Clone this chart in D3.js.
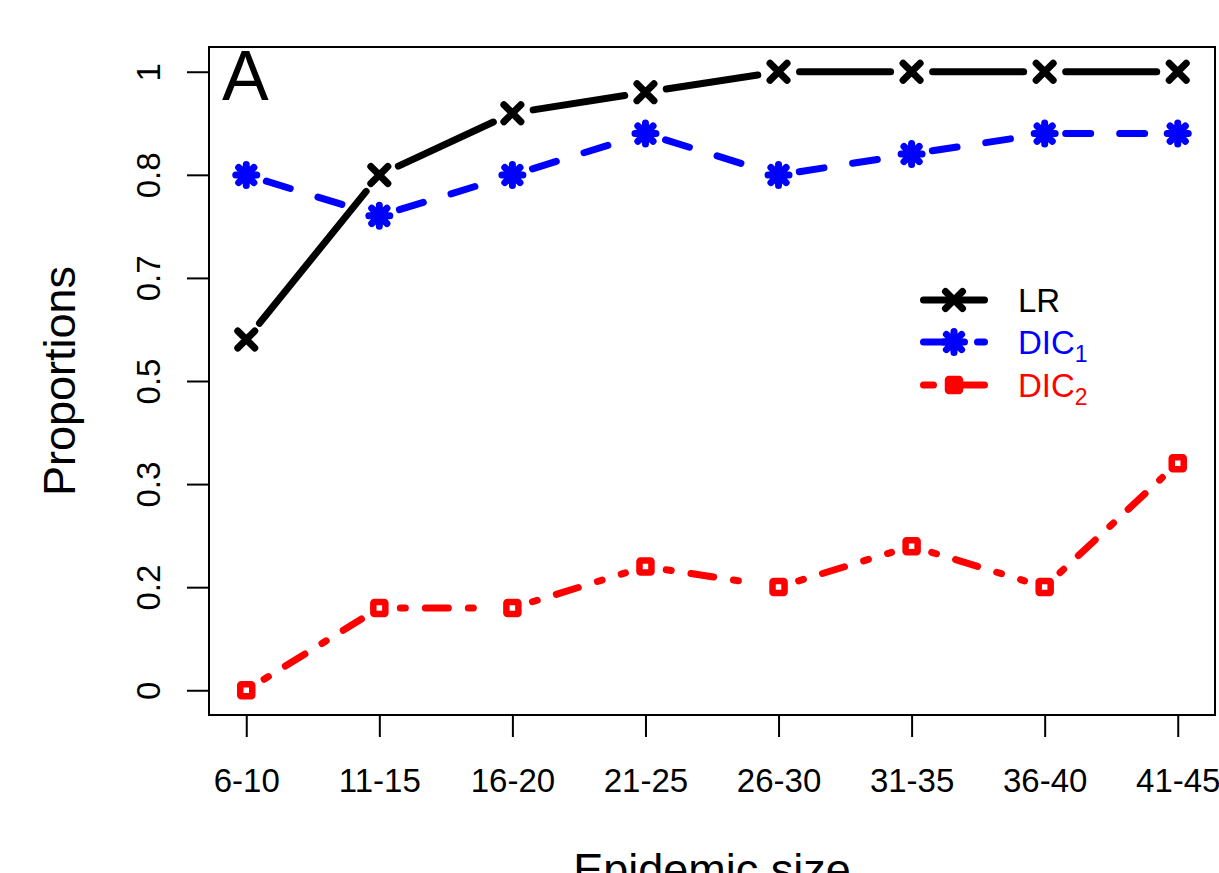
<!DOCTYPE html>
<html>
<head>
<meta charset="utf-8">
<script src="https://cdn.jsdelivr.net/npm/d3@7"></script>
<style>
  html, body { margin: 0; padding: 0; background: #fff; }
  svg { display: block; font-family: "Liberation Sans", Arial, Helvetica, sans-serif; }
</style>
</head>
<body>
<svg id="chart" width="1219" height="873"></svg>
<script>
// ---------- data ----------
const categories = ["6-10", "11-15", "16-20", "21-25", "26-30", "31-35", "36-40", "41-45"];
const lrValues   = [0.567, 0.833, 0.933, 0.967, 1.0, 1.0, 1.0, 1.0];
const dic1Values = [0.833, 0.767, 0.833, 0.9, 0.833, 0.867, 0.9, 0.9];
const dic2Values = [0.0, 0.133, 0.133, 0.2, 0.167, 0.233, 0.167, 0.367];
const yTickValues = [0, 1/6, 2/6, 3/6, 4/6, 5/6, 1];
const yTickLabels = ["0", "0.2", "0.3", "0.5", "0.7", "0.8", "1"];
const seriesNames = ["LR", "DIC", "DIC"];
const seriesSubs  = ["", "1", "2"];

// ---------- layout ----------
const svg = d3.select("#chart");
const box = { left: 209, right: 1215, top: 47, bottom: 715 };

const x = d3.scaleLinear()
  .domain([-0.28, categories.length - 1 + 0.28])
  .range([box.left, box.right]);
const y = d3.scaleLinear()
  .domain([-0.04, 1.04])
  .range([box.bottom, box.top]);

const LW = 7;
const series = [
  { values: lrValues,   color: "#000000", dash: null,         legDash: null,      marker: "x" },
  { values: dic1Values, color: "#0000ff", dash: "25,29",      legDash: "25,29",   marker: "ast" },
  { values: dic2Values, color: "#ff0000", dash: "5,20,23,20", legDash: "10,20,40", marker: "sq" }
];

// ---------- frame ----------
svg.append("rect")
  .attr("x", box.left).attr("y", box.top)
  .attr("width", box.right - box.left).attr("height", box.bottom - box.top)
  .attr("fill", "none").attr("stroke", "#000").attr("stroke-width", 2);

// ---------- axes ----------
const xAxis = d3.axisBottom(x)
  .tickValues(d3.range(categories.length))
  .tickFormat(i => categories[i])
  .tickSize(22).tickPadding(0);
const gx = svg.append("g").attr("transform", `translate(0,${box.bottom})`).call(xAxis);
gx.select(".domain").remove();
gx.selectAll(".tick line").attr("stroke", "#000").attr("stroke-width", 2);
gx.selectAll(".tick text")
  .attr("font-size", 33).attr("fill", "#000")
  .attr("y", 77).attr("dy", 0);

const yAxis = d3.axisLeft(y)
  .tickValues(yTickValues)
  .tickFormat((d, i) => yTickLabels[i])
  .tickSize(22).tickPadding(0);
const gy = svg.append("g").attr("transform", `translate(${box.left},0)`).call(yAxis);
gy.select(".domain").remove();
gy.selectAll(".tick line").attr("stroke", "#000").attr("stroke-width", 2);
gy.selectAll(".tick text")
  .attr("font-size", 33).attr("fill", "#000")
  .attr("x", null).attr("dy", null)
  .attr("text-anchor", "middle")
  .attr("transform", "translate(-49,0) rotate(-90)");

// axis titles
svg.append("text")
  .attr("x", (box.left + box.right) / 2).attr("y", 885)
  .attr("text-anchor", "middle").attr("font-size", 45).attr("fill", "#000")
  .text("Epidemic size");
svg.append("text")
  .attr("transform", `translate(75,${y(0.5)}) rotate(-90)`)
  .attr("text-anchor", "middle").attr("font-size", 45).attr("fill", "#000")
  .text("Proportions");

// panel letter
svg.append("text")
  .attr("x", 222).attr("y", 100)
  .attr("font-size", 70).attr("fill", "#000")
  .text("A");

// ---------- marker drawing ----------
function drawMarker(g, cx, cy, type, color) {
  if (type === "x") {
    const h = 8.5;
    g.append("path")
      .attr("d", `M${cx-h},${cy-h}L${cx+h},${cy+h}M${cx-h},${cy+h}L${cx+h},${cy-h}`)
      .attr("stroke", color).attr("stroke-width", LW).attr("stroke-linecap", "round").attr("fill", "none");
  } else if (type === "ast") {
    const h = 10.5, d = 7.6;
    g.append("path")
      .attr("d", `M${cx-h},${cy}L${cx+h},${cy}M${cx},${cy-h}L${cx},${cy+h}` +
                 `M${cx-d},${cy-d}L${cx+d},${cy+d}M${cx-d},${cy+d}L${cx+d},${cy-d}`)
      .attr("stroke", color).attr("stroke-width", LW).attr("stroke-linecap", "round").attr("fill", "none");
  } else {
    const s = 6;
    g.append("rect")
      .attr("x", cx - s).attr("y", cy - s).attr("width", 2 * s).attr("height", 2 * s)
      .attr("rx", 1)
      .attr("stroke", color).attr("stroke-width", 6.5).attr("fill", "none");
  }
}

// ---------- series (R type "b": lines with gaps around points) ----------
const GAP = 21;
series.forEach(s => {
  const g = svg.append("g");
  for (let i = 0; i < s.values.length - 1; i++) {
    const x0 = x(i), y0 = y(s.values[i]), x1 = x(i + 1), y1 = y(s.values[i + 1]);
    const len = Math.hypot(x1 - x0, y1 - y0);
    if (len <= 2 * GAP) continue;
    const ux = (x1 - x0) / len, uy = (y1 - y0) / len;
    g.append("line")
      .attr("x1", x0 + ux * GAP).attr("y1", y0 + uy * GAP)
      .attr("x2", x1 - ux * GAP).attr("y2", y1 - uy * GAP)
      .attr("stroke", s.color).attr("stroke-width", LW)
      .attr("stroke-linecap", "round")
      .attr("stroke-dasharray", s.dash);
  }
  s.values.forEach((v, i) => drawMarker(g, x(i), y(v), s.marker, s.color));
});

// ---------- legend ----------
const legY = [300, 342, 385];
const leg = svg.append("g");
series.forEach((s, i) => {
  const ly = legY[i];
  leg.append("line")
    .attr("x1", 923.5).attr("x2", 984.5).attr("y1", ly).attr("y2", ly)
    .attr("stroke", s.color).attr("stroke-width", LW)
    .attr("stroke-linecap", "round").attr("stroke-dasharray", s.legDash);
  drawMarker(leg, 954, ly, s.marker, s.color);
  const t = leg.append("text")
    .attr("x", 1018).attr("y", ly + 12)
    .attr("font-size", 33).attr("fill", s.color);
  t.append("tspan").text(seriesNames[i]);
  if (seriesSubs[i]) {
    t.append("tspan").attr("font-size", 23).attr("dy", 8).text(seriesSubs[i]);
  }
});
</script>
</body>
</html>
